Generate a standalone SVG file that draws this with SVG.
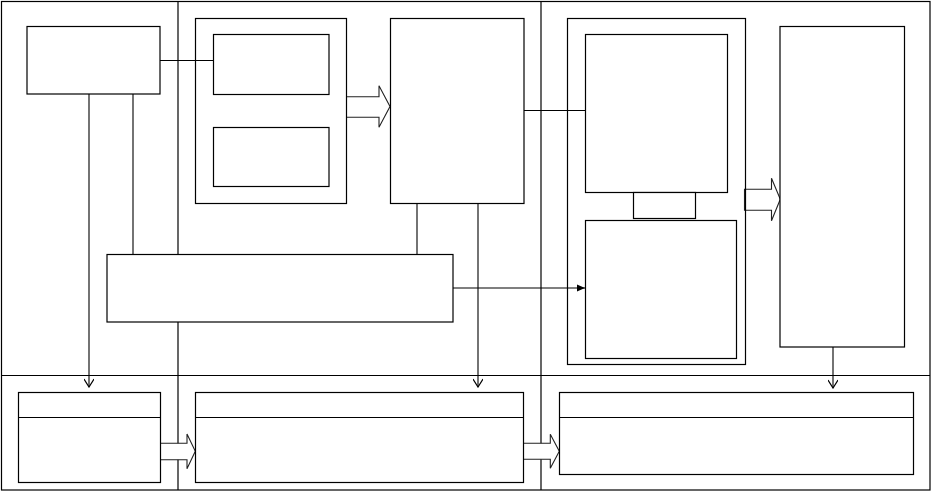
<svg xmlns="http://www.w3.org/2000/svg" width="931" height="491" viewBox="0 0 931 491">
<defs>
<style>
.b{fill:#fff;stroke:#000;stroke-width:1.2}
.g{fill:none;stroke:#000;stroke-width:1.2}
.l{fill:none;stroke:#000;stroke-width:1.1}
.ba{fill:#fff;stroke:#222;stroke-width:1.1;stroke-linejoin:miter}
</style>
<marker id="open" viewBox="0 0 10 10" refX="9" refY="5" markerWidth="10" markerHeight="10" markerUnits="userSpaceOnUse" orient="auto">
<path d="M1,0 L9,5 L1,10" fill="none" stroke="#000" stroke-width="1.2"/>
</marker>
<marker id="fill" viewBox="0 0 10 10" refX="9" refY="5" markerWidth="9" markerHeight="9" markerUnits="userSpaceOnUse" orient="auto">
<path d="M0,1 L9,5 L0,9 Z" fill="#000"/>
</marker>
</defs>
<rect width="931" height="491" fill="#fff"/>
<g id="frame" class="g">
<rect x="1.5" y="1.5" width="928.5" height="488.5"/>
<line x1="178" y1="1.5" x2="178" y2="490"/>
<line x1="541" y1="1.5" x2="541" y2="490"/>
<line x1="1.5" y1="375.5" x2="930" y2="375.5"/>
</g>
<g id="connectors">
<line class="l" x1="160" y1="60.5" x2="213" y2="60.5"/>
<line class="l" x1="89" y1="94" x2="89" y2="387" marker-end="url(#open)"/>
<line class="l" x1="133" y1="94" x2="133" y2="254"/>
<line class="l" x1="417" y1="203" x2="417" y2="254"/>
<line class="l" x1="478" y1="203" x2="478" y2="387" marker-end="url(#open)"/>
<line class="l" x1="524" y1="110.5" x2="586" y2="110.5"/>
<line class="l" x1="453" y1="288" x2="585" y2="288" marker-end="url(#fill)"/>
<line class="l" x1="833" y1="347" x2="833" y2="388" marker-end="url(#open)"/>
<path class="ba" d="M346,96.7 H379 V85.7 L390,106.5 L379,127.3 V117.3 H346"/>
<path class="ba" d="M744.5,189.3 H771.5 V178.3 L780.3,199.3 L771.5,220.7 V210.3 H744.5 Z"/>
<path class="ba" d="M160,443.3 H187 V434 L195.3,451.3 L187,468.7 V459.7 H160"/>
<path class="ba" d="M524,443.3 H550.3 V434.3 L559.3,451.3 L550.3,468.3 V459.3 H524"/>
</g>
<g id="n-topleft"><rect class="b" x="27" y="26.5" width="133" height="67.5"/></g>
<g id="n-group1">
<rect class="g" x="195.5" y="18.5" width="151" height="185"/>
<g id="n-g1a"><rect class="b" x="213.5" y="34.5" width="115.5" height="60"/></g>
<g id="n-g1b"><rect class="b" x="213.5" y="127.5" width="115.5" height="59"/></g>
</g>
<g id="n-middle"><rect class="b" x="390.5" y="18.5" width="133.5" height="185"/></g>
<g id="n-wide"><rect class="b" x="107" y="254.5" width="346" height="67.5"/></g>
<g id="n-group2">
<rect class="g" x="567.5" y="18.5" width="178" height="346"/>
<g id="n-g2a"><rect class="b" x="585.5" y="34.5" width="142" height="158"/></g>
<g id="n-g2link"><rect class="b" x="633.5" y="192.5" width="62" height="26"/></g>
<g id="n-g2b"><rect class="b" x="585.5" y="220.5" width="151" height="138"/></g>
</g>
<g id="n-righttall"><rect class="b" x="780" y="26.5" width="124.5" height="320.5"/></g>
<g id="n-bottom1"><rect class="b" x="18.5" y="392.5" width="142" height="90"/><line class="l" x1="18.5" y1="417.5" x2="160.5" y2="417.5"/></g>
<g id="n-bottom2"><rect class="b" x="195.5" y="392.5" width="328" height="90"/><line class="l" x1="195.5" y1="417.5" x2="523.5" y2="417.5"/></g>
<g id="n-bottom3"><rect class="b" x="559.5" y="392.5" width="354" height="82"/><line class="l" x1="559.5" y1="417.5" x2="913.5" y2="417.5"/></g>
</svg>
